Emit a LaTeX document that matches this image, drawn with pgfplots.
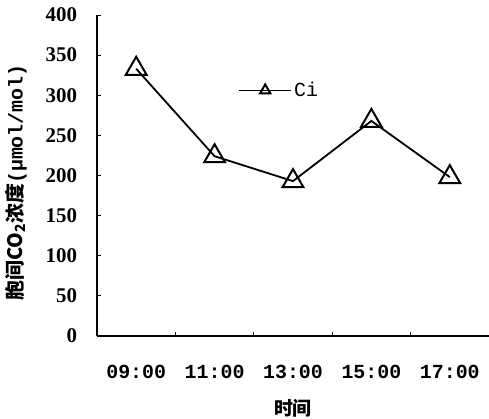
\documentclass[border=0pt]{standalone}
\usepackage{pgfplots}
\pgfplotsset{compat=1.18}
\usepackage{fontspec}
\setmainfont{Liberation Serif}
\setmonofont{Liberation Mono}
\newfontfamily\cjk{Noto Sans CJK SC}

\begin{document}
\begin{tikzpicture}
\begin{axis}[
  name=ax,
  scale only axis, width=392bp, height=321bp,
  xmin=0.5, xmax=5.5, ymin=0, ymax=400,
  axis x line*=bottom, axis y line*=left,
  axis line style={-, line width=1.3bp},
  ytick={0,50,...,400},
  xtick={1.5,2.5,3.5,4.5}, xticklabels={},
  extra x ticks={1,2,3,4,5},
  extra x tick labels={09:00,11:00,13:00,15:00,17:00},
  extra x tick style={major tick length=0pt},
  major tick length=4bp,
  tick style={black, line width=1bp},
  tick align=inside,
  /pgf/number format/assume math mode=true,
  yticklabel style={font=\bfseries\fontsize{21}{24}\selectfont, xshift=-16.5bp},
  xticklabel style={font=\ttfamily\bfseries\fontsize{20}{24}\selectfont, yshift=-26bp},
  ylabel={\cjk\bfseries 胞间CO\textsubscript{2}浓度{\ttfamily\bfseries(μmol/mol)}},
  ylabel style={font=\fontsize{20}{22}\selectfont, yshift=12bp, xshift=-7bp},
  xlabel={\cjk\bfseries 时间},
  xlabel style={font=\fontsize{19}{22}\selectfont, yshift=-13bp},
  legend style={draw=none, fill=none, at={(axis cs:2.3,306)}, anchor=west,
    font=\ttfamily\fontsize{20}{24}\selectfont, inner sep=0pt},
  legend image code/.code={\draw[mark repeat=2,mark phase=2,#1]
    plot coordinates {(0bp,0bp) (26bp,0bp) (52bp,0bp)};},
  legend image post style={mark size=6bp},
  clip=false,
]
\addplot[black, line width=1.8bp, mark=triangle,
  mark size=12bp, mark options={fill=white, line width=2bp, solid}]
  coordinates {(1,333) (2,224) (3,193) (4,268) (5,198)};
\addlegendentry{Ci}
\end{axis}
\pgfresetboundingbox
\useasboundingbox ([xshift=-97bp,yshift=-83bp]ax.south west) rectangle ++(489bp,419bp);
\end{tikzpicture}
\end{document}
